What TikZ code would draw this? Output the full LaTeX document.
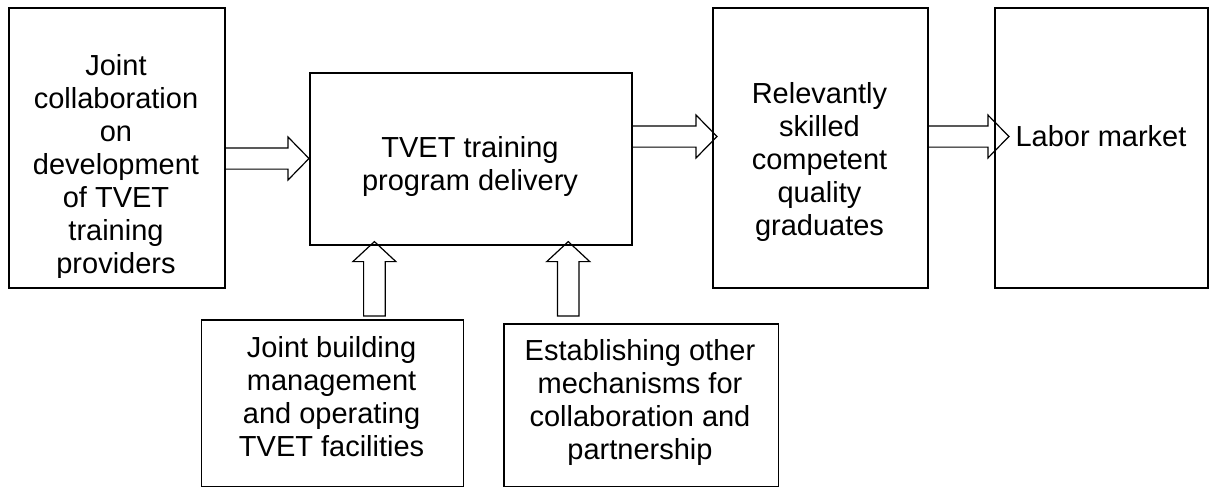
\documentclass[tikz,border=0pt]{standalone}
\usepackage{fontspec}
\setmainfont{Liberation Sans}
\usetikzlibrary{calc}
\tikzset{
  box/.style={draw, line width=1.6pt, inner sep=0pt, anchor=north west},
  txt/.style={font=\fontsize{29}{33}\selectfont, align=center, inner sep=0pt, anchor=north},
  barrow/.style={draw, line width=1.2pt, line join=miter},
}
\newcommand\harr[2]{%
  \draw[barrow] let \p1=(#1), \p2=(#2) in
    (\x1,\y1+10.6pt) -- (\x2-21pt,\y1+10.6pt) -- (\x2-21pt,\y1+21.5pt) -- (\x2,\y1)
    -- (\x2-21pt,\y1-21.5pt) -- (\x2-21pt,\y1-10.6pt) -- (\x1,\y1-10.6pt);}
\newcommand\varr[2]{%
  \draw[barrow] let \p1=(#1), \p2=(#2) in
    (\x1-10.8pt,\y1) -- (\x1-10.8pt,\y2-20pt) -- (\x1-21.5pt,\y2-20pt) -- (\x1,\y2)
    -- (\x1+21.5pt,\y2-20pt) -- (\x1+10.8pt,\y2-20pt) -- (\x1+10.8pt,\y1) -- cycle;}
\begin{document}
\begin{tikzpicture}[x=1pt,y=-1pt]
\useasboundingbox (0,0) rectangle (1209,487);

% boxes
\node[box, minimum width=216pt, minimum height=280pt] (L) at (8,7) {};
\node[box, minimum width=322pt, minimum height=172pt] (C) at (309,72) {};
\node[box, minimum width=215pt, minimum height=280pt] (R) at (712,7) {};
\node[box, minimum width=212.6pt, minimum height=280pt] (M) at (994.4,7) {};
\node[box, minimum width=261.8pt, minimum height=166.5pt] (BL) at (200.7,319) {};
\node[box, minimum width=274.5pt, minimum height=162.5pt] (BR) at (503,323) {};

% texts
\begin{scope}
  \clip (L.north west) rectangle ($(L.south east)+(0,-11)$);
  \node[txt] (Lt) at (116,53.7) {\rule{0pt}{22pt}Joint\\collaboration\\on\\development\\of TVET\\training\\providers};
\end{scope}
\node[txt] (Ct) at (470,135) {\rule{0pt}{22pt}TVET training\\program delivery};
\node[txt] (Rt) at (819.5,81.5) {\rule{0pt}{22pt}Relevantly\\skilled\\competent\\quality\\graduates};
\node[txt, anchor=base] (Mt) at (1101,146) {Labor market};
\node[txt] (BLt) at (331.6,335.7) {\rule{0pt}{22pt}Joint building\\management\\and operating\\TVET facilities};
\node[txt] (BRt) at (640,338.7) {\rule{0pt}{22pt}Establishing other\\mechanisms for\\collaboration and\\partnership};

% connector end points
\coordinate (a1s) at (L.east |- 0,158.5);
\coordinate (a1e) at (C.west |- 0,158.5);
\coordinate (a2s) at (C.east |- 0,136.5);
\coordinate (a2e) at ($(R.west |- 0,136.5)+(5,0)$);
\coordinate (a3s) at (R.east |- 0,136.5);
\coordinate (a3e) at ($(M.west |- 0,136.5)+(14.5,0)$);
\coordinate (u1s) at ($(BL.north)+(42,-3)$);
\coordinate (u1e) at ($(u1s |- C.south)+(0,-4)$);
\coordinate (u2s) at ($(BR.north)+(-72.8,-7)$);
\coordinate (u2e) at ($(u2s |- C.south)+(0,-4)$);

\harr{a1s}{a1e}
\harr{a2s}{a2e}
\harr{a3s}{a3e}
\varr{u1s}{u1e}
\varr{u2s}{u2e}
\end{tikzpicture}
\end{document}
